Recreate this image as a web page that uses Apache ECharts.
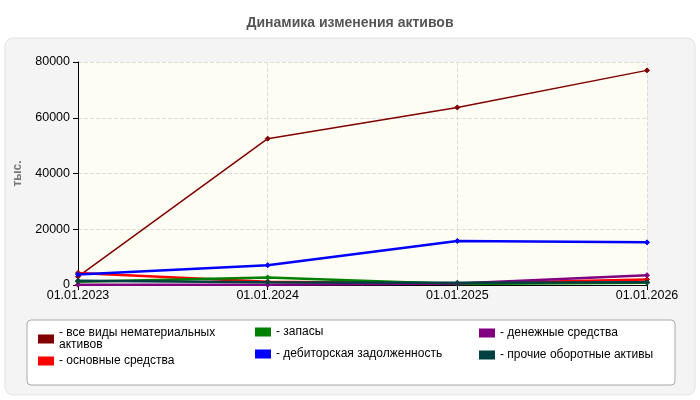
<!DOCTYPE html>
<html><head><meta charset="utf-8">
<script src="https://cdn.jsdelivr.net/npm/echarts@6/dist/echarts.min.js"></script>
<style>html,body{margin:0;padding:0;background:#fff}#c{width:700px;height:400px}</style>
</head><body><div id="c"></div>
<script>
const categories = ['01.01.2023','01.01.2024','01.01.2025','01.01.2026'];
const intangible = [3000, 52500, 63700, 77000];
const fixedAssets = [4300, 1200, 500, 2000];
const inventory = [1200, 2700, 400, 800];
const receivables = [3800, 7100, 15800, 15300];
const cash = [100, 100, 500, 3500];
const otherCurrent = [1500, 1000, 800, 1000];
const yTicks = [0, 20000, 40000, 60000, 80000];

const names = ['все виды нематериальных\nактивов','основные средства','запасы','дебиторская задолженность','денежные средства','прочие оборотные активы'];
const colors = ['#800000','#ff0000','#008000','#0000ff','#800080','#004040'];
const datas = [intangible, fixedAssets, inventory, receivables, cash, otherCurrent];

const chart = echarts.init(document.getElementById('c'));
const legendBase = {orient:'vertical', itemWidth:16, itemHeight:9, itemGap:10,
  textStyle:{fontFamily:'Liberation Sans', fontSize:12, color:'#000', lineHeight:12},
  formatter: n => '- ' + n, icon:'rect'};
chart.setOption({
  animation:false,
  title:{text:'Динамика изменения активов', left:'center', top:11,
    textStyle:{fontFamily:'Liberation Sans', fontSize:14, fontWeight:'bold', color:'#555'}},
  graphic:[
    {type:'rect', shape:{x:5,y:38,width:690,height:357,r:8}, style:{fill:'#f4f4f4', stroke:'#e2e2e2'}, z:-10},
    {type:'rect', shape:{x:27,y:320,width:648,height:65,r:4}, style:{fill:'#fff', stroke:'#aaa'}, z:-5}
  ],
  grid:{left:78, right:53, top:62, bottom:115, show:true, backgroundColor:'#fdfdf4', borderWidth:0},
  legend:[
    Object.assign({}, legendBase, {left:33, top:322, itemGap:4, data:[names[0], names[1]]}),
    Object.assign({}, legendBase, {left:250, top:321, data:[names[2], names[3]]}),
    Object.assign({}, legendBase, {left:474, top:322, data:[names[4], names[5]]})
  ],
  xAxis:{type:'category', data:categories, boundaryGap:false,
    axisLine:{lineStyle:{color:'#000'}}, axisTick:{show:true, lineStyle:{color:'#000'}},
    axisLabel:{fontFamily:'Liberation Sans', fontSize:12.5, color:'#000', margin:4, interval:0},
    splitLine:{show:true, lineStyle:{type:'dashed', color:'#ddd'}}},
  yAxis:{type:'value', min:yTicks[0], max:yTicks[yTicks.length-1], interval:20000,
    name:'тыс.', nameLocation:'middle', nameGap:54, nameRotate:90,
    nameTextStyle:{fontFamily:'Liberation Sans', fontSize:12, fontWeight:'bold', color:'#777'},
    axisLine:{show:true, lineStyle:{color:'#000'}}, axisTick:{show:true, lineStyle:{color:'#000'}},
    axisLabel:{fontFamily:'Liberation Sans', fontSize:12.5, color:'#000', formatter: v => String(v)},
    splitLine:{lineStyle:{type:'dashed', color:'#ddd'}}},
  series: names.map((n,i)=>({name:n, type:'line', data:datas[i], color:colors[i],
    symbol:'diamond', symbolSize:5, lineStyle:{width: i===0?1.5:2.5},
    itemStyle:{borderColor:i===1?'#800000':colors[i]}}))
});
</script></body></html>
